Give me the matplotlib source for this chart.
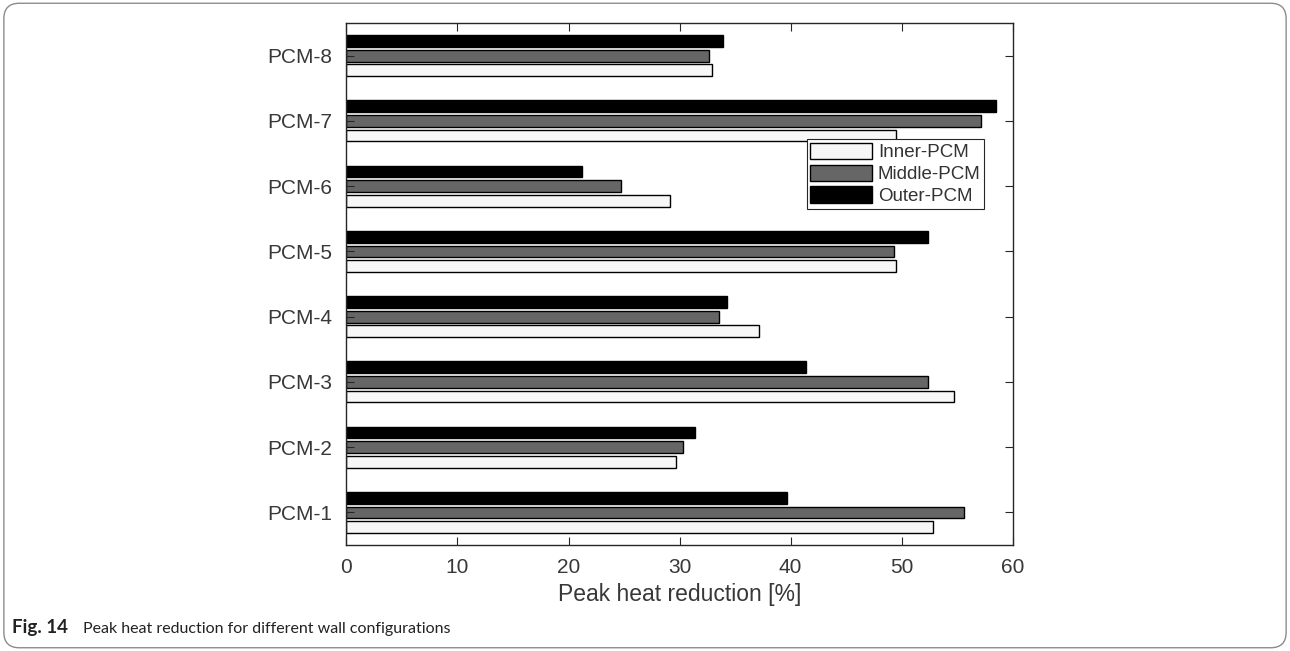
import numpy as np
import matplotlib.pyplot as plt
from matplotlib.patches import FancyBboxPatch

# Peak heat reduction [%] for each PCM and wall position
pcm_names = ['PCM-1', 'PCM-2', 'PCM-3', 'PCM-4', 'PCM-5', 'PCM-6', 'PCM-7', 'PCM-8']
inner = [52.8, 29.7, 54.7, 37.2, 49.5, 29.1, 49.5, 32.9]
middle = [55.6, 30.3, 52.4, 33.6, 49.3, 24.7, 57.2, 32.7]
outer = [39.7, 31.4, 41.4, 34.3, 52.4, 21.2, 58.5, 33.9]
series_names = ['Inner-PCM', 'Middle-PCM', 'Outer-PCM']
xticks = [0, 10, 20, 30, 40, 50, 60]

plt.rcParams['font.family'] = ['Liberation Sans', 'DejaVu Sans']

fig = plt.figure(figsize=(12.9, 6.51), dpi=100)
ax = fig.add_axes([0.2686, 0.1628, 0.5163, 0.8018])

y = np.arange(1, len(pcm_names) + 1)
h = 0.18
off = 0.225
ink = '#262626'

ax.barh(y - off, inner, height=h, color='#f7f7f7', edgecolor='black', linewidth=1, label=series_names[0])
ax.barh(y, middle, height=h, color='#666666', edgecolor='black', linewidth=1, label=series_names[1])
ax.barh(y + off, outer, height=h, color='black', edgecolor='black', linewidth=1, label=series_names[2])

ax.set_xlim(0, 60)
ax.set_ylim(0.5, 8.5)
ax.set_xticks(xticks)
ax.set_yticks(y)
ax.set_yticklabels(pcm_names)
ax.tick_params(axis='both', direction='in', length=6, width=0.8, color=ink,
               labelcolor='#383838', labelsize=15)
ax.tick_params(axis='x', top=True, pad=9)
ax.tick_params(axis='y', right=True, pad=10)
for s in ax.spines.values():
    s.set_color(ink)
    s.set_linewidth(1)

ax.set_xlabel('Peak heat reduction [%]', fontsize=16.5, color='#383838', labelpad=5)

leg = ax.legend(loc='upper left', bbox_to_anchor=(0.691, 0.778), fontsize=13.5,
                frameon=True, fancybox=False, edgecolor=ink, framealpha=1,
                borderpad=0.2, handlelength=3.3, handleheight=0.95,
                handletextpad=0.3, labelspacing=0.18, borderaxespad=0)
leg.get_frame().set_linewidth(0.8)
for t in leg.get_texts():
    t.set_color('#333333')

# rounded frame around the whole figure
frame = FancyBboxPatch((0.003, 0.005), 0.994, 0.99, boxstyle='round,pad=0,rounding_size=0.012',
                       transform=fig.transFigure, facecolor='none', edgecolor='#8c8c8c',
                       linewidth=1, mutation_aspect=1.98)
fig.patches.append(frame)

# caption
cap_font = ['Lato', 'DejaVu Sans']
fig.text(0.0093, 0.028, 'Fig. 14', fontsize=13.5, fontweight='bold', color='#222222',
         family=cap_font, va='baseline')
fig.text(0.0645, 0.028, 'Peak heat reduction for different wall configurations', fontsize=11.5,
         color='#222222', family=cap_font, va='baseline')

plt.savefig('out.png', dpi=100)
